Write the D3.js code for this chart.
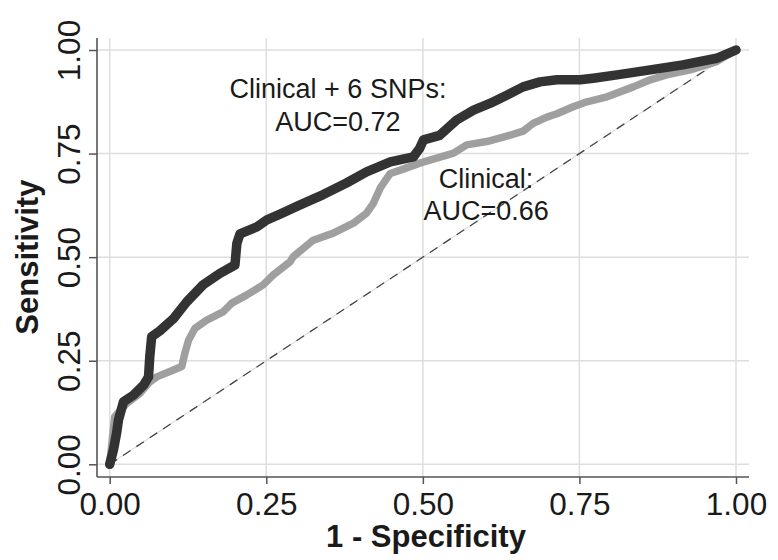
<!DOCTYPE html>
<html>
<head>
<meta charset="utf-8">
<script src="https://cdn.jsdelivr.net/npm/d3@7"></script>
<style>
  html, body { margin: 0; padding: 0; background: #fff; }
  svg { display: block; }
  text { font-family: "Liberation Sans", Arial, sans-serif; fill: #1a1a1a; }
</style>
</head>
<body>
<svg id="chart" width="778" height="560"></svg>
<script>
// ---- Data ----
const xTicks = [0, 0.25, 0.5, 0.75, 1];
const yTicks = [0, 0.25, 0.5, 0.75, 1];
const tickLabels = ["0.00", "0.25", "0.50", "0.75", "1.00"];

// Clinical + 6 SNPs (AUC = 0.72): [1 - specificity, sensitivity]
const snpFpr = [0, 0.006, 0.011, 0.014, 0.022, 0.038, 0.054, 0.062, 0.064, 0.067, 0.080, 0.102, 0.123, 0.149, 0.176, 0.200, 0.203, 0.208, 0.235, 0.251, 0.272, 0.304, 0.341, 0.378, 0.410, 0.448, 0.485, 0.495, 0.501, 0.527, 0.554, 0.581, 0.607, 0.634, 0.660, 0.687, 0.714, 0.751, 0.772, 0.810, 0.863, 0.915, 0.969, 1];
const snpTpr = [0, 0.035, 0.075, 0.107, 0.151, 0.167, 0.191, 0.211, 0.260, 0.308, 0.322, 0.352, 0.392, 0.433, 0.461, 0.481, 0.533, 0.556, 0.573, 0.590, 0.604, 0.626, 0.651, 0.679, 0.706, 0.730, 0.742, 0.763, 0.783, 0.794, 0.831, 0.855, 0.871, 0.891, 0.911, 0.923, 0.928, 0.928, 0.932, 0.940, 0.952, 0.964, 0.980, 1];

// Clinical (AUC = 0.66)
const clinFpr = [0, 0.008, 0.027, 0.048, 0.064, 0.075, 0.096, 0.115, 0.120, 0.126, 0.136, 0.155, 0.181, 0.195, 0.219, 0.245, 0.261, 0.288, 0.293, 0.325, 0.357, 0.389, 0.410, 0.421, 0.432, 0.448, 0.464, 0.495, 0.522, 0.549, 0.570, 0.602, 0.634, 0.660, 0.676, 0.698, 0.714, 0.740, 0.762, 0.794, 0.836, 0.863, 0.889, 0.927, 0.969, 1];
const clinTpr = [0, 0.115, 0.147, 0.171, 0.199, 0.211, 0.224, 0.236, 0.268, 0.300, 0.328, 0.348, 0.368, 0.389, 0.409, 0.433, 0.457, 0.489, 0.501, 0.541, 0.558, 0.582, 0.606, 0.630, 0.667, 0.702, 0.710, 0.727, 0.739, 0.751, 0.771, 0.779, 0.792, 0.804, 0.823, 0.838, 0.846, 0.863, 0.875, 0.887, 0.911, 0.928, 0.940, 0.952, 0.972, 1];

const snpLabel = ["Clinical + 6 SNPs:", "AUC=0.72"];
const clinLabel = ["Clinical:", "AUC=0.66"];

// ---- Layout ----
const svg = d3.select("#chart");
const frame = { left: 97, right: 749, top: 38, bottom: 477 };
const x = d3.scaleLinear().domain([0, 1]).range([109.7, 736]);
const y = d3.scaleLinear().domain([0, 1]).range([464.3, 50]);
const FONT = '"Liberation Sans", Arial, sans-serif';

const grid = svg.append("g");
grid.selectAll("line.h").data(yTicks).join("line")
  .attr("x1", frame.left).attr("x2", frame.right)
  .attr("y1", d => y(d)).attr("y2", d => y(d))
  .attr("stroke", "#dedede").attr("stroke-width", 1.5);
grid.selectAll("line.v").data(xTicks).join("line")
  .attr("y1", frame.top).attr("y2", frame.bottom)
  .attr("x1", d => x(d)).attr("x2", d => x(d))
  .attr("stroke", "#dedede").attr("stroke-width", 1.5);

// axes
const xAxis = d3.axisBottom(x).tickValues(xTicks).tickFormat((d, i) => tickLabels[i]).tickSize(7);
const gx = svg.append("g").attr("transform", `translate(0,${frame.bottom})`).call(xAxis);
gx.select(".domain").attr("d", `M${frame.left},0H${frame.right}`).attr("stroke", "#555").attr("stroke-width", 1.6);
gx.selectAll(".tick line").attr("stroke", "#555").attr("stroke-width", 1.5);
gx.selectAll(".tick text").attr("font-size", 31.5).attr("font-family", FONT)
  .attr("fill", "#1a1a1a").attr("dy", null).attr("y", 38);

const yAxis = d3.axisLeft(y).tickValues(yTicks).tickFormat((d, i) => tickLabels[i]).tickSize(8);
const gy = svg.append("g").attr("transform", `translate(${frame.left},0)`).call(yAxis);
gy.select(".domain").attr("d", `M0,${frame.top}V${frame.bottom}`).attr("stroke", "#555").attr("stroke-width", 1.6);
gy.selectAll(".tick line").attr("stroke", "#555").attr("stroke-width", 1.5);
gy.selectAll(".tick text").attr("font-size", 31.5).attr("font-family", FONT)
  .attr("fill", "#1a1a1a").attr("x", null).attr("dy", null)
  .attr("text-anchor", "middle")
  .attr("transform", "translate(-17,0) rotate(-90)");

// diagonal reference
const diag = [[0, 0], [1, 1]];
const lineGen = d3.line().x(d => x(d[0])).y(d => y(d[1]));
svg.append("path").attr("d", lineGen(diag)).attr("fill", "none")
  .attr("stroke", "#c8c8c8").attr("stroke-width", 0.8);
svg.append("path").attr("d", lineGen(diag)).attr("fill", "none")
  .attr("stroke", "#444").attr("stroke-width", 1.3).attr("stroke-dasharray", "9,7");

// curves
const clinData = clinFpr.map((v, i) => [v, clinTpr[i]]);
const snpData = snpFpr.map((v, i) => [v, snpTpr[i]]);
svg.append("path").attr("d", lineGen(clinData)).attr("fill", "none")
  .attr("stroke", "#9f9f9f").attr("stroke-width", 7.5)
  .attr("stroke-linejoin", "round").attr("stroke-linecap", "round");
svg.append("path").attr("d", lineGen(snpData)).attr("fill", "none")
  .attr("stroke", "#333").attr("stroke-width", 9.5)
  .attr("stroke-linejoin", "round").attr("stroke-linecap", "round");

// annotations
function label(lines, cx, by, gap) {
  lines.forEach((t, i) => {
    svg.append("text").attr("x", x(cx)).attr("y", y(by) + i * gap)
      .attr("text-anchor", "middle").attr("font-size", 27).text(t);
  });
}
label(snpLabel, 0.3645, 0.884, 33);
label(clinLabel, 0.601, 0.667, 32);

// axis titles
svg.append("text").attr("x", 426).attr("y", 547).attr("text-anchor", "middle")
  .attr("font-size", 31).attr("font-weight", "bold").text("1 - Specificity");
svg.append("text").attr("transform", `translate(38,${y(0.5)}) rotate(-90)`)
  .attr("text-anchor", "middle").attr("font-size", 31).attr("font-weight", "bold").text("Sensitivity");
</script>
</body>
</html>
